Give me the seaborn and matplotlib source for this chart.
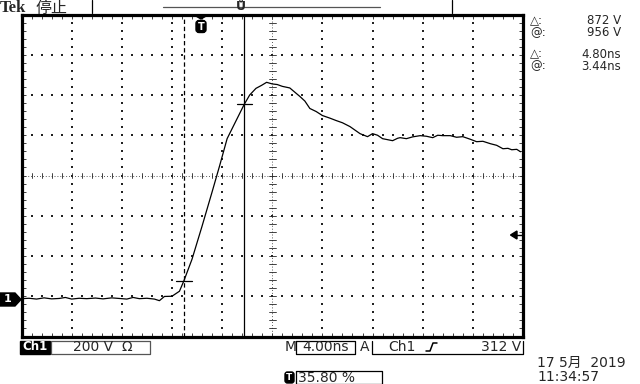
import numpy as np
import pandas as pd
import seaborn as sns
import matplotlib.pyplot as plt
from matplotlib.patches import Rectangle, Polygon, FancyBboxPatch

# ---- data (time in ns relative to screen centre, volts relative to screen centre) ----
time_ns = [-20.0, -19.4, -18.8, -18.2, -17.6, -17.0, -16.5, -16.0, -15.4, -14.8, -14.1,
           -13.5, -12.8, -12.2, -11.6, -11.1, -10.6, -10.0, -9.4, -9.0, -8.6, -8.0,
           -7.4, -7.04, -6.4, -5.6, -4.8, -4.2, -3.6, -2.8, -2.24, -1.8, -1.3, -0.85,
           -0.45, 0.0, 0.4, 0.8, 1.4, 2.2, 2.6, 3.0, 3.5, 4.0, 4.6, 5.1, 5.6, 6.2, 7.0,
           7.6, 8.0, 8.4, 8.8, 9.2, 9.6, 10.0, 10.2, 10.7, 11.2, 11.8, 12.3, 12.8, 13.2,
           13.6, 14.2, 14.7, 15.2, 15.8, 16.3, 16.8, 17.4, 17.9, 18.4, 18.8, 19.1, 19.5,
           19.8]
volts = [-612, -610, -614, -608, -613, -611, -606, -614, -610, -612, -609,
         -613, -608, -611, -614, -606, -612, -610, -614, -622, -601, -600,
         -575, -522, -416, -252, -82, 48, 183, 283, 353, 400, 433, 448,
         463, 455, 452, 443, 435, 393, 370, 333, 318, 298, 285, 273, 262, 243, 208,
         193, 208, 200, 183, 178, 173, 185, 188, 183, 192, 198, 195, 188, 200,
         198, 198, 190, 193, 180, 168, 170, 158, 150, 133, 135, 128, 130,
         118]
cursor_t = [-7.04, -2.24]
cursor_v = [-522, 353]
readout_labels = ["△:", "@:", "△:", "@:"]
readout_values = ["872 V", "956 V", "4.80ns", "3.44ns"]
ch_scale = "200 V"
time_scale = "4.00ns"
trig_level = "312 V"
trig_pos = "35.80 %"
date_txt = "17 5月  2019"
time_txt = "11:34:57"

sns.set_style("white")
plt.rcParams['font.family'] = ['DejaVu Sans', 'Noto Sans CJK SC']

W, H = 640, 384
fig = plt.figure(figsize=(6.4, 3.84), dpi=100)
fig.patch.set_facecolor('white')

L, R, T, B = 21.5, 523.0, 14.5, 336.5
ax = fig.add_axes([L / W, (H - B) / H, (R - L) / W, (B - T) / H])
ax.set_zorder(1)
ax.set_facecolor('white')
ax.set_xlim(-20, 20)
ax.set_ylim(-800, 800)

# graticule dots
gx, gy = [], []
for xd in range(-4, 5):
    if xd == 0:
        continue
    for v in np.arange(-800, 801, 40):
        gx.append(xd * 4); gy.append(v)
for yd in [-3, -2, -1, 1, 2, 3]:
    for t in np.arange(-20, 20.01, 0.8):
        gx.append(t); gy.append(yd * 200)
ax.scatter(gx, gy, s=1.0, marker='s', color='#222222', linewidths=0, zorder=2)
# centre lines
ax.axhline(0, color='#222222', lw=0.6, ls=(0, (1, 2.5)), zorder=2)
ax.axvline(0, color='#222222', lw=0.6, ls=(0, (1, 2.5)), zorder=2)
for t in np.arange(-20, 20.01, 0.8):
    ax.plot([t, t], [-14, 14], color='#222222', lw=0.6, zorder=2)
for v in np.arange(-800, 801, 40):
    ax.plot([-0.28, 0.28], [v, v], color='#222222', lw=0.6, zorder=2)

ax.set_xticks(np.arange(-20, 20.01, 0.8))
ax.set_yticks(np.arange(-800, 801, 40))
ax.tick_params(direction='in', length=3, width=0.6, top=True, right=True,
               bottom=True, left=True, labelbottom=False, labelleft=False,
               color='#222222')
for s in ax.spines.values():
    s.set_linewidth(2.3)
    s.set_color('black')

# waveform
df = pd.DataFrame({'t': time_ns, 'v': volts})
sns.lineplot(data=df, x='t', y='v', color='black', lw=0.9, ax=ax,
             estimator=None, sort=False, zorder=4)
ax.set_xlabel(''); ax.set_ylabel('')

# cursors
ax.axvline(cursor_t[0], color='black', lw=0.9, ls=(0, (3.5, 2.2)), zorder=3)
ax.axvline(cursor_t[1], color='black', lw=0.9, zorder=3)
for ct, cv in zip(cursor_t, cursor_v):
    ax.plot([ct - 0.6, ct + 0.6], [cv, cv], color='black', lw=0.9, zorder=4)

# ---- overlay in pixel coordinates ----
ov = fig.add_axes([0, 0, 1, 1])
ov.set_zorder(5)
ov.set_xlim(0, W); ov.set_ylim(H, 0)
ov.axis('off')

ov.text(0, 8.5, "Tek", family='Liberation Serif', fontweight='bold', fontsize=12,
        ha='left', va='center')
ov.text(36, 8, "停止", family=['Noto Sans CJK SC'], fontsize=11.5, ha='left', va='center')
ov.plot([92, 92], [0, 13], color='black', lw=0.9)
ov.plot([163, 380], [6.7, 6.7], color='#555555', lw=0.9)
ov.plot([452, 452], [0, 13], color='black', lw=0.9)
ov.text(241, 7, "Ů", fontsize=9, fontweight='bold', ha='center', va='center')

# trigger position marker
ov.add_patch(Polygon([[195, 15.5], [207, 15.5], [201, 19]], closed=True, color='black'))
ov.add_patch(FancyBboxPatch((196, 20.5), 10, 12, boxstyle="round,pad=0,rounding_size=3",
                            color='black'))
ov.text(201, 26.5, "T", color='white', fontsize=7, fontweight='bold', ha='center', va='center')

# ground marker
ov.add_patch(Polygon([[0, 293], [15, 293], [21, 299.5], [15, 306], [0, 306]], closed=True,
                     color='black'))
ov.text(8, 299.5, "1", color='white', fontsize=8, fontweight='bold', ha='center', va='center')

# trigger level arrow
ov.add_patch(Polygon([[510.5, 235], [517, 231], [517, 239]], closed=True, color='black'))
ov.plot([516, 522], [235, 235], color='black', lw=1.0)

# readouts on the right
ys = [21, 33, 54, 66]
for lab, val, y in zip(readout_labels, readout_values, ys):
    ov.text(530, y, lab, fontsize=8.5, ha='left', va='center')
    ov.text(621, y, val, fontsize=8.5, ha='right', va='center')

# bottom status line
ov.add_patch(Rectangle((20, 340.5), 30, 13, color='black'))
ov.text(35, 347, "Ch1", color='white', fontsize=8.5, fontweight='bold', ha='center', va='center')
ov.plot([51, 51, 149.5, 149.5, 51], [340.5, 353.5, 353.5, 340.5, 340.5], color='#555555', lw=0.9)
ov.text(73, 347, ch_scale, fontsize=10, ha='left', va='center')
ov.text(122, 347, "Ω", fontsize=10, ha='left', va='center')

ov.text(285, 347, "M", fontsize=10, ha='left', va='center')
ov.plot([296, 296, 355, 355, 296], [340.5, 353.5, 353.5, 340.5, 340.5], color='black', lw=0.9)
ov.text(325.5, 347, time_scale, fontsize=10, ha='center', va='center')

ov.text(360, 347, "A", fontsize=10, ha='left', va='center')
ov.plot([372, 372, 523, 523], [340.5, 353.5, 353.5, 340.5], color='black', lw=0.9)
ov.text(388, 347, "Ch1", fontsize=10, ha='left', va='center')
ov.plot([426, 430, 433, 437], [351, 351, 343, 343], color='black', lw=1.1)
ov.text(521, 347, trig_level, fontsize=10, ha='right', va='center')

ov.add_patch(FancyBboxPatch((285, 372), 9, 11, boxstyle="round,pad=0,rounding_size=2.5",
                            color='black'))
ov.text(289.5, 377.5, "T", color='white', fontsize=6.5, fontweight='bold', ha='center', va='center')
ov.plot([295.5, 295.5, 382, 382, 295.5], [371, 384, 384, 371, 371], color='black', lw=0.9)
ov.text(298, 377.5, trig_pos, fontsize=10, ha='left', va='center')

ov.text(537, 363, date_txt, fontsize=10, ha='left', va='center')
ov.text(537, 377, time_txt, fontsize=10, ha='left', va='center')

fig.savefig("out.png", dpi=100, facecolor='white')
